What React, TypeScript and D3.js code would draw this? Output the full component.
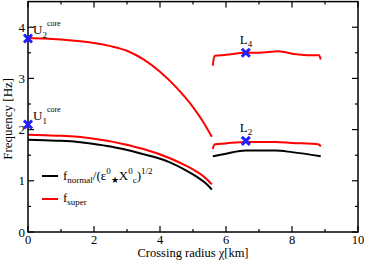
import React from "react";
import * as d3 from "d3";

const W = 366, H = 262;
const xDomain = [0, 10];
const yDomain = [0, 4.5];
const xTicks = [0, 2, 4, 6, 8, 10];
const yTicks = [0, 1, 2, 3, 4];
const xMinor = [1, 3, 5, 7, 9];
const yMinor = [0.5, 1.5, 2.5, 3.5];

// core branch, super (upper)
const superUpperX = [0, 0.5, 1, 1.5, 2, 2.5, 3, 3.5, 4, 4.5, 5, 5.3, 5.57];
const superUpperY = [3.79, 3.78, 3.76, 3.73, 3.69, 3.63, 3.54, 3.37, 3.13, 2.82, 2.44, 2.16, 1.86];
// core branch, super (lower)
const superLowerX = [0, 0.5, 1, 1.5, 2, 2.5, 2.88, 3.5, 4.3, 4.8, 5.11, 5.35, 5.57];
const superLowerY = [1.90, 1.89, 1.88, 1.86, 1.82, 1.77, 1.72, 1.62, 1.44, 1.29, 1.18, 1.07, 0.93];
// core branch, normal
const normalX = [0, 0.5, 1, 1.5, 2, 2.5, 2.88, 3.5, 4.3, 4.8, 5.11, 5.35, 5.57];
const normalY = [1.80, 1.79, 1.78, 1.76, 1.72, 1.67, 1.62, 1.52, 1.36, 1.20, 1.08, 0.97, 0.83];
// L4 super
const l4X = [5.6, 5.65, 6.0, 6.58, 7.0, 7.58, 8.14, 8.5, 8.82, 8.87];
const l4Y = [3.25, 3.44, 3.46, 3.50, 3.50, 3.53, 3.47, 3.45, 3.45, 3.37];
// L2 super
const l2X = [5.6, 5.65, 6.0, 6.6, 7.5, 8.0, 8.82, 8.87];
const l2Y = [1.62, 1.71, 1.73, 1.76, 1.76, 1.74, 1.71, 1.67];
// L2 normal
const l2nX = [5.6, 6.0, 6.6, 7.5, 8.0, 8.87];
const l2nY = [1.48, 1.53, 1.59, 1.59, 1.56, 1.48];

const markerX = [0, 0, 6.6, 6.6];
const markerY = [3.78, 2.1, 3.5, 1.78];

const FONT = "'Liberation Serif', 'DejaVu Serif', serif";

export default function App() {
  const x = d3.scaleLinear().domain(xDomain).range([28, 358]);
  const y = d3.scaleLinear().domain(yDomain).range([232, 1.6]);
  const line = d3.line<[number, number]>().x(d => x(d[0])).y(d => y(d[1])).curve(d3.curveMonotoneX);
  const path = (xs: number[], ys: number[]) => line(xs.map((v, i) => [v, ys[i]] as [number, number])) || "";
  const x0 = x(0), x1 = x(10), y0 = y(0), y1 = y(4.5);

  const cross = (cx: number, cy: number, k: number) => (
    <g key={k} stroke="#1f1fff" strokeWidth={3} strokeLinecap="butt">
      <line x1={cx - 4} y1={cy - 4} x2={cx + 4} y2={cy + 4} />
      <line x1={cx - 4} y1={cy + 4} x2={cx + 4} y2={cy - 4} />
    </g>
  );

  return (
    <svg width={W} height={H} style={{ position: "absolute", left: 0, top: 0 }} fontFamily={FONT}>
      <rect width={W} height={H} fill="white" />
      {/* curves */}
      <path d={path(normalX, normalY)} fill="none" stroke="black" strokeWidth={2} />
      <path d={path(superLowerX, superLowerY)} fill="none" stroke="#ff0000" strokeWidth={2} />
      <path d={path(superUpperX, superUpperY)} fill="none" stroke="#ff0000" strokeWidth={2} />
      <path d={path(l2nX, l2nY)} fill="none" stroke="black" strokeWidth={2} />
      <path d={path(l2X, l2Y)} fill="none" stroke="#ff0000" strokeWidth={2} />
      <path d={path(l4X, l4Y)} fill="none" stroke="#ff0000" strokeWidth={2} />

      {/* frame */}
      <rect x={x0} y={y1} width={x1 - x0} height={y0 - y1} fill="none" stroke="black" strokeWidth={1.5} />
      {/* ticks */}
      {xTicks.map(t => (
        <g key={"xt" + t}>
          <line x1={x(t)} x2={x(t)} y1={y0} y2={y0 - 6} stroke="black" strokeWidth={1.2} />
          <line x1={x(t)} x2={x(t)} y1={y1} y2={y1 + 6} stroke="black" strokeWidth={1.2} />
          <text x={x(t)} y={y0 + 12} textAnchor="middle" fontSize={12.5}>{t}</text>
        </g>
      ))}
      {xMinor.map(t => (
        <g key={"xm" + t}>
          <line x1={x(t)} x2={x(t)} y1={y0} y2={y0 - 3} stroke="black" strokeWidth={1.2} />
          <line x1={x(t)} x2={x(t)} y1={y1} y2={y1 + 3} stroke="black" strokeWidth={1.2} />
        </g>
      ))}
      {yTicks.map(t => (
        <g key={"yt" + t}>
          <line x1={x0} x2={x0 + 6} y1={y(t)} y2={y(t)} stroke="black" strokeWidth={1.2} />
          <line x1={x1} x2={x1 - 6} y1={y(t)} y2={y(t)} stroke="black" strokeWidth={1.2} />
          <text x={x0 - 3} y={y(t) + 4.5} textAnchor="end" fontSize={13}>{t}</text>
        </g>
      ))}
      {yMinor.map(t => (
        <g key={"ym" + t}>
          <line x1={x0} x2={x0 + 3} y1={y(t)} y2={y(t)} stroke="black" strokeWidth={1.2} />
          <line x1={x1} x2={x1 - 3} y1={y(t)} y2={y(t)} stroke="black" strokeWidth={1.2} />
        </g>
      ))}
      {/* axis titles */}
      <text x={(x0 + x1) / 2} y={257} textAnchor="middle" fontSize={12.5}>Crossing radius χ[km]</text>
      <text transform={`translate(12,${(y0 + y1) / 2 + 2}) rotate(-90)`} textAnchor="middle" fontSize={13}>Frequency [Hz]</text>

      {/* markers */}
      {markerX.map((mx, i) => cross(x(mx), y(markerY[i]), i))}

      {/* marker labels */}
      <text x={x(0) + 5} y={y(3.78) - 4} fontSize={13}>U<tspan fontSize={9} dy={4}>2</tspan><tspan fontSize={8} dy={-12}>core</tspan></text>
      <text x={x(0) + 5} y={y(2.1) - 4} fontSize={13}>U<tspan fontSize={9} dy={4}>1</tspan><tspan fontSize={8} dy={-12}>core</tspan></text>
      <text x={x(6.6) - 6} y={y(3.5) - 9} fontSize={13}>L<tspan fontSize={9} dy={3}>4</tspan></text>
      <text x={x(6.6) - 6} y={y(1.78) - 9} fontSize={13}>L<tspan fontSize={9} dy={3}>2</tspan></text>

      {/* legend */}
      <line x1={42} x2={58} y1={176} y2={176} stroke="black" strokeWidth={2} />
      <line x1={42} x2={58} y1={199} y2={199} stroke="#ff0000" strokeWidth={2} />
      <text x={63} y={180} fontSize={13}>f<tspan fontSize={9} dy={3}>normal</tspan><tspan dy={-3}>/(ε</tspan><tspan fontSize={9} dy={-6}>0</tspan><tspan fontSize={9} dy={9}>★</tspan><tspan dy={-3}>X</tspan><tspan fontSize={9} dy={-6}>0</tspan><tspan fontSize={9} dy={9}>c</tspan><tspan dy={-3}>)</tspan><tspan fontSize={9} dy={-6}>1/2</tspan></text>
      <text x={63} y={202} fontSize={13}>f<tspan fontSize={9} dy={3}>super</tspan></text>
    </svg>
  );
}
